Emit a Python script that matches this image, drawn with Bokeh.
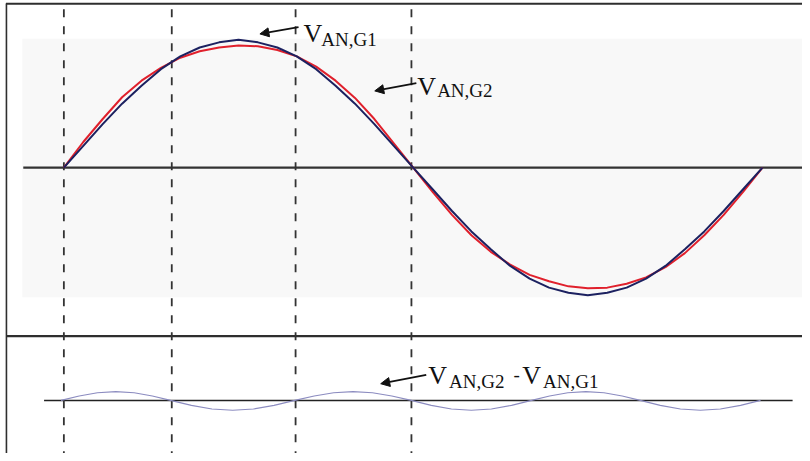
from bokeh.plotting import figure
from bokeh.models import Range1d, Label, Arrow, NormalHead
from bokeh.embed import file_html
from bokeh.resources import INLINE

# ---------------- data ----------------
# phase angle in degrees
theta = [0, 10, 20, 30, 40, 50, 60, 70, 80, 90, 100, 110, 120, 130, 140, 150, 160, 170, 180,
         190, 200, 210, 220, 230, 240, 250, 260, 270, 280, 290, 300, 310, 320, 330, 340, 350, 360]
# V_AN,G1 (blue), normalised to its peak
v_an_g1 = [0.00, 0.17, 0.34, 0.50, 0.64, 0.77, 0.87, 0.94, 0.98, 1.00, 0.98, 0.94, 0.87, 0.77, 0.64, 0.50, 0.34, 0.17, 0.00,
           -0.17, -0.34, -0.50, -0.64, -0.77, -0.87, -0.94, -0.98, -1.00, -0.98, -0.94, -0.87, -0.77, -0.64, -0.50, -0.34, -0.17, 0.00]
# V_AN,G2 (red), same scale
v_an_g2 = [0.00, 0.20, 0.38, 0.55, 0.68, 0.78, 0.86, 0.91, 0.94, 0.955, 0.95, 0.92, 0.87, 0.79, 0.68, 0.545, 0.38, 0.19, 0.00,
           -0.19, -0.37, -0.53, -0.66, -0.76, -0.84, -0.89, -0.93, -0.945, -0.94, -0.91, -0.86, -0.78, -0.67, -0.53, -0.37, -0.19, 0.00]
# V_AN,G2 - V_AN,G1 (lower panel), own scale
diff_theta = [-1.5, 7.9, 17.3, 26.75, 36.2, 45.6,
              55, 65.7, 76.3, 87, 97.7, 108.3,
              119, 129, 139, 149, 159, 169,
              179, 189.3, 199.7, 210, 220.3, 230.7,
              241, 250.3, 259.7, 269, 278.3, 287.7,
              297, 307.3, 317.7, 328, 338.3, 348.7, 359]
diff_vals = [0.0, 0.45, 0.78, 0.9, 0.78, 0.45,
             0.0, -0.5, -0.87, -1.0, -0.87, -0.5,
             0.0, 0.45, 0.78, 0.9, 0.78, 0.45,
             0.0, -0.5, -0.87, -1.0, -0.87, -0.5,
             0.0, 0.45, 0.78, 0.9, 0.78, 0.45,
             0.0, -0.5, -0.87, -1.0, -0.87, -0.5, 0.0]
# vertical dashed markers (degrees)
marker_theta = [0, 55.6, 119.4, 179.1]

# ---------------- layout helpers (reference pixel -> data) ----------------
RW, RH = 810, 461            # reference picture size
W, H = 802, 453              # figure size (fits the window with the 8px margin)
X0, KX = 64.0, 1.96          # theta=0 at pixel 64, 1.96 px per degree
Y_ZERO, KY = 170.0, 130.0    # upper panel zero line / amplitude (px)
Y_ZERO2, KY2 = 407.0, 10.0   # lower panel zero line / px per unit


def dx(X):
    return (X - X0) / KX


def dy(Y):
    return (Y_ZERO - Y) / KY


def dy2(Y):
    return (Y_ZERO2 - Y) / KY2


p = figure(width=W, height=H, output_backend="svg", toolbar_location=None,
           x_range=Range1d(dx(0), dx(RW)), y_range=Range1d(dy(RH), dy(0)),
           x_axis_location=None, y_axis_location=None, min_border=0)
p.extra_y_ranges = {"diff": Range1d(dy2(RH), dy2(0))}
p.grid.visible = False
p.outline_line_color = None
p.background_fill_color = "white"
p.border_fill_color = "white"

# faint grey plot area of the upper panel
p.quad(left=[dx(22)], right=[dx(RW + 2)], top=[dy(39)], bottom=[dy(302)],
       fill_color="#f8f8f8", line_color=None)

# frame lines
frame = "#2e2e2e"
p.segment(x0=[dx(5.5)], y0=[dy(3.3)], x1=[dx(RW + 2)], y1=[dy(3.3)], line_color=frame, line_width=2.2)
p.segment(x0=[dx(6)], y0=[dy(3)], x1=[dx(6)], y1=[dy(RH + 5)], line_color=frame, line_width=1.6)
p.segment(x0=[dx(6)], y0=[dy(341.5)], x1=[dx(RW + 2)], y1=[dy(341.5)], line_color=frame, line_width=2.2)

# zero lines
p.segment(x0=[dx(23)], y0=[0], x1=[dx(RW + 2)], y1=[0], line_color="#333333", line_width=2.2)
p.segment(x0=[dx(44)], y0=[0], x1=[dx(800)], y1=[0], line_color="#222222", line_width=1.6,
          y_range_name="diff")

# dashed markers
for t in marker_theta:
    p.segment(x0=[t], y0=[dy(9)], x1=[t], y1=[dy(RH + 5)], line_color="#333333",
              line_width=1.8, line_dash="8 9")

# waveforms
p.line(theta, v_an_g2, line_color="#e0202c", line_width=2.0)
p.line(theta, v_an_g1, line_color="#1c2160", line_width=2.0)
p.line(diff_theta, diff_vals, line_color="#8c8cc0", line_width=1.2, y_range_name="diff")


# arrows
def arrow(xs, ys, xe, ye, rng="default"):
    conv = dy if rng == "default" else dy2
    p.add_layout(Arrow(end=NormalHead(size=9, fill_color="#111111", line_color="#111111"),
                       x_start=dx(xs), y_start=conv(ys), x_end=dx(xe), y_end=conv(ye),
                       line_color="#111111", line_width=1.8, y_range_name=rng))


arrow(301, 27, 262, 34)
arrow(420, 84, 378, 92)
arrow(430, 381, 384, 390, "diff")

# labels
FONT = "Liberation Serif"
BIG, SUB = 26, 19


def label(X, Y, txt, size, rng="default"):
    conv = dy if rng == "default" else dy2
    p.add_layout(Label(x=dx(X), y=conv(Y), text=txt, text_font=FONT,
                       text_font_size=f"{size}px", text_color="#111111",
                       text_baseline="alphabetic", text_align="left", y_range_name=rng))


label(306, 34, "V", BIG)
label(324, 39.5, "AN,G1", SUB)
label(421, 88, "V", BIG)
label(441, 92, "AN,G2", SUB)
label(432, 382, "V", BIG, "diff")
label(453, 388, "AN,G2", SUB, "diff")
label(518, 381, "-", SUB, "diff")
label(527, 382, "V", BIG, "diff")
label(548, 388, "AN,G1", SUB, "diff")

open("out.html", "w").write(file_html(p, INLINE))
